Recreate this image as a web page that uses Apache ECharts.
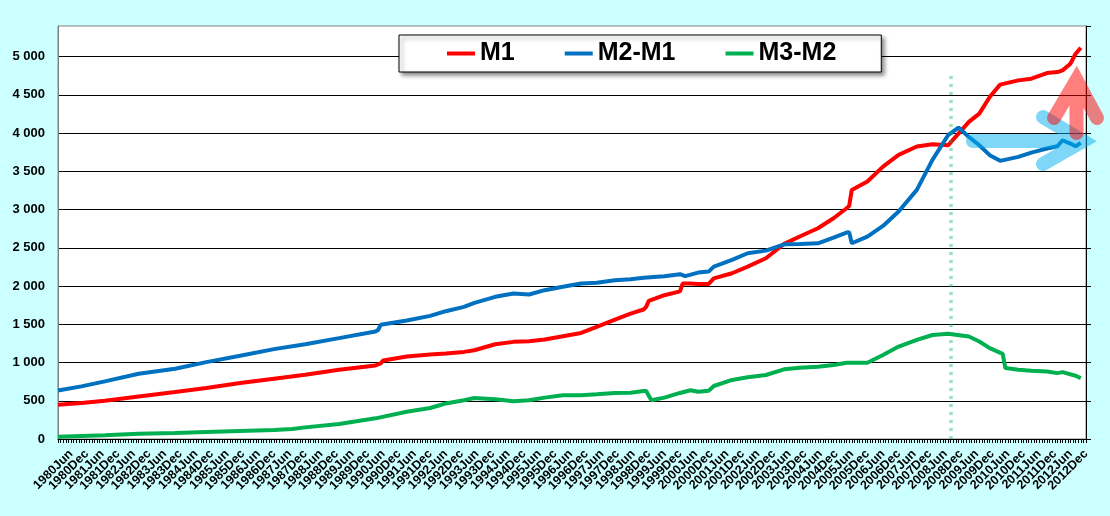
<!DOCTYPE html>
<html>
<head>
<meta charset="utf-8">
<script src="https://cdn.jsdelivr.net/npm/echarts@6/dist/echarts.min.js"></script>
<style>
html,body{margin:0;padding:0;background:#CCFFFF;}
#chart{width:1110px;height:516px;}
</style>
</head>
<body>
<div id="chart"></div>
<script>
// ---- categories (monthly, 1980Jan .. 2012Dec); labels only on Jun and Dec ----
const monthNames = ['Jan','Feb','Mar','Apr','May','Jun','Jul','Aug','Sep','Oct','Nov','Dec'];
const firstYear = 1980, lastYear = 2012;
const labelMonths = ['Jun', 'Dec'];
const categories = [];
for (let y = firstYear; y <= lastYear; y++) {
  monthNames.forEach(m => categories.push(y + m));
}

const seriesNames = ['M1', 'M2-M1', 'M3-M2'];
const yTicks = [0, 500, 1000, 1500, 2000, 2500, 3000, 3500, 4000, 4500, 5000];
const yMax = 5400;
const eventMonth = '2008Aug';
const eventTop = 4800;

// ---- M1 ----
const m1Dates = ['1980Jan','1980Oct','1981Jul','1982Aug','1983Oct','1984Oct','1985Nov','1986Dec','1987Dec','1989Jan',
  '1990Mar','1990May','1990Jun','1991Mar','1991Dec','1992Jun','1993Jan','1993May','1994Jan','1994Aug',
  '1995Feb','1995Aug','1996Mar','1996Oct','1997Apr','1997Nov','1998May','1998Oct','1998Nov','1998Dec',
  '1999Jun','1999Dec','2000Jan','2000Apr','2000Jul','2000Nov','2001Jan','2001Aug','2002Feb','2002Sep',
  '2003Apr','2003Oct','2004May','2004Nov','2005Apr','2005May','2005Jun','2005Dec','2006Jun','2006Dec',
  '2007Jul','2008Jan','2008Jul','2008Nov','2009Mar','2009Jul','2009Nov','2010Mar','2010Oct','2011Mar',
  '2011Sep','2012Jan','2012Mar','2012Jun','2012Aug','2012Oct'];
const m1Values = [448,470,500,557,614,666,731,788,840,905,
  962,990,1027,1079,1104,1117,1139,1160,1239,1270,
  1278,1300,1344,1387,1466,1562,1640,1693,1728,1806,
  1880,1930,2033,2033,2027,2027,2101,2167,2254,2363,
  2551,2647,2756,2886,3017,3048,3257,3366,3562,3715,
  3824,3855,3840,3993,4146,4254,4472,4633,4689,4711,
  4785,4798,4820,4907,5037,5116];

// ---- M2-M1 ----
const m2m1Dates = ['1980Jan','1980Oct','1981Jul','1982Aug','1983Oct','1984Oct','1985Nov','1986Dec','1987Dec','1989Jan',
  '1990Mar','1990Apr','1990May','1991Mar','1991Dec','1992Jun','1993Jan','1993May','1994Jan','1994Aug',
  '1995Feb','1995Aug','1996Mar','1996Oct','1997Apr','1997Nov','1998May','1998Oct','1999Jun','1999Dec',
  '2000Feb','2000Jul','2000Nov','2001Jan','2001Aug','2002Feb','2002Sep','2003Apr','2003Oct','2004May',
  '2004Nov','2005Apr','2005May','2005Jun','2005Dec','2006Jun','2006Dec','2007Jul','2008Jan','2008Jul',
  '2008Nov','2009Mar','2009Jul','2009Nov','2010Mar','2010Oct','2011Mar','2011Sep','2012Jan','2012Mar',
  '2012Jun','2012Aug','2012Oct'];
const m2m1Values = [635,688,753,853,918,1005,1088,1175,1240,1319,
  1405,1425,1493,1549,1610,1671,1728,1780,1859,1902,
  1889,1946,1990,2033,2042,2077,2090,2107,2129,2155,
  2129,2176,2189,2254,2341,2429,2463,2546,2551,2559,
  2633,2699,2705,2559,2646,2786,2974,3257,3649,3972,
  4072,3950,3841,3711,3637,3689,3745,3798,3828,3906,
  3863,3828,3872];

// ---- M3-M2 ----
const m3m2Dates = ['1980Jan','1981Jul','1982Aug','1983Oct','1984Oct','1985Nov','1986Dec','1987Jul','1987Dec','1989Jan',
  '1990Mar','1991Mar','1991Dec','1992Apr','1992Jun','1993Jan','1993May','1994Jan','1994Aug','1995Feb',
  '1995Aug','1996Mar','1996Oct','1997Apr','1997Nov','1998May','1998Oct','1998Nov','1999Jan','1999Jun',
  '1999Dec','2000Apr','2000Jul','2000Nov','2001Jan','2001Aug','2002Feb','2002Sep','2003Apr','2003Oct',
  '2004May','2004Nov','2005Apr','2005Dec','2006Jun','2006Dec','2007Jul','2008Jan','2008Jul','2009Mar',
  '2009Jul','2009Nov','2010Apr','2010May','2010Oct','2011Mar','2011Sep','2012Jan','2012Mar','2012Aug',
  '2012Oct'];
const m3m2Values = [30,48,70,78,91,104,117,130,152,196,
  270,357,405,445,465,506,537,519,493,506,
  541,572,572,585,602,606,628,628,506,541,
  602,637,619,632,693,772,807,837,911,933,
  946,968,998,998,1099,1208,1295,1360,1375,1340,
  1275,1188,1114,927,905,892,883,861,874,827,
  796];

function toPairs(dates, values) {
  return dates.map((d, i) => [categories.indexOf(d), values[i]]);
}

// arrow annotation shape: several stroked sub-paths in one path (no double blending)
const ArrowStroke = echarts.graphic.extendShape({
  shape: {segs: []},
  buildPath: function (ctx, shape) {
    shape.segs.forEach(function (seg) {
      ctx.moveTo(seg[0][0], seg[0][1]);
      for (let i = 1; i < seg.length; i++) ctx.lineTo(seg[i][0], seg[i][1]);
    });
  }
});
echarts.graphic.registerShape('arrowStroke', ArrowStroke);

const FONT = "'Liberation Sans', Arial, sans-serif";
const chart = echarts.init(document.getElementById('chart'), null, {renderer: 'canvas'});

function lineSeries(name, color, dates, values, extra) {
  return Object.assign({
    name: name,
    type: 'line',
    data: toPairs(dates, values),
    symbol: 'none',
    showSymbol: false,
    color: color,
    lineStyle: {color: color, width: 4},
    itemStyle: {color: color},
    animation: false
  }, extra || {});
}

const option = {
  backgroundColor: '#CCFFFF',
  animation: false,
  textStyle: {fontFamily: FONT},
  grid: {
    left: 58, right: 24, top: 26, bottom: 77,
    show: true, backgroundColor: '#FFFFFF', borderColor: '#808080', borderWidth: 1
  },
  legend: {
    data: seriesNames,
    left: 399, top: 35,
    icon: 'rect', itemWidth: 28, itemHeight: 4, itemGap: 50,
    padding: [6, 45, 6, 48],
    backgroundColor: '#FFFFFF', borderColor: '#000000', borderWidth: 1,
    shadowColor: 'rgba(0,0,0,0.45)', shadowBlur: 4, shadowOffsetX: 3, shadowOffsetY: 3,
    textStyle: {fontFamily: FONT, fontSize: 25, fontWeight: 'bold', color: '#000', lineHeight: 25}
  },
  xAxis: {
    type: 'category',
    data: categories,
    boundaryGap: false,
    axisLine: {lineStyle: {color: '#000', width: 1}},
    axisTick: {show: true, interval: 0, length: 4, lineStyle: {color: '#000'}},
    axisLabel: {
      interval: 0, rotate: 45, margin: 13, hideOverlap: false,
      formatter: v => (labelMonths.indexOf(v.slice(4)) >= 0 ? v : ''),
      fontFamily: FONT, fontSize: 12.5, fontWeight: 'bold', color: '#000'
    },
    splitLine: {show: false}
  },
  yAxis: [{
    type: 'value',
    min: yTicks[0], max: yMax, interval: yTicks[1] - yTicks[0],
    axisLine: {show: true, lineStyle: {color: '#808080'}},
    axisTick: {show: false},
    axisLabel: {
      margin: 13, showMaxLabel: false,
      fontFamily: FONT, fontSize: 13, fontWeight: 'bold', color: '#000',
      formatter: v => String(v).replace(/\B(?=(\d{3})+(?!\d))/g, ' ')
    },
    splitLine: {show: true, showMaxLine: false, showMinLine: false, lineStyle: {color: '#000', width: 1}}
  }, {
    type: 'value', position: 'right',
    min: yTicks[0], max: yMax, interval: yTicks[1] - yTicks[0],
    axisLine: {show: true, lineStyle: {color: '#000'}},
    axisTick: {show: true, length: 5, lineStyle: {color: '#000'}},
    axisLabel: {show: false},
    splitLine: {show: false}
  }],
  series: [
    lineSeries(seriesNames[0], '#FF0000', m1Dates, m1Values),
    lineSeries(seriesNames[1], '#0070C0', m2m1Dates, m2m1Values),
    lineSeries(seriesNames[2], '#00B050', m3m2Dates, m3m2Values, {
      markLine: {
        silent: true, symbol: 'none', animation: false,
        label: {show: false},
        lineStyle: {color: 'rgba(0,176,80,0.4)', width: 3.5, type: [3, 5]},
        data: [[{coord: [eventMonth, 0]}, {coord: [eventMonth, eventTop]}]]
      }
    })
  ],
  graphic: [
    {
      type: 'arrowStroke', z: 100, silent: true,
      shape: {segs: [[[973,141],[1083,141]], [[1043,117],[1083,141],[1043,164]]]},
      style: {fill: null, stroke: 'rgba(0,176,240,0.5)', lineWidth: 14, lineCap: 'round', lineJoin: 'miter'}
    },
    {
      type: 'arrowStroke', z: 101, silent: true,
      shape: {segs: [[[1076.5,82],[1076.5,133]], [[1054,118],[1076.5,80],[1097,118]]]},
      style: {fill: null, stroke: 'rgba(255,0,0,0.5)', lineWidth: 14, lineCap: 'round', lineJoin: 'miter'}
    }
  ]
};
chart.setOption(option);
</script>
</body>
</html>
